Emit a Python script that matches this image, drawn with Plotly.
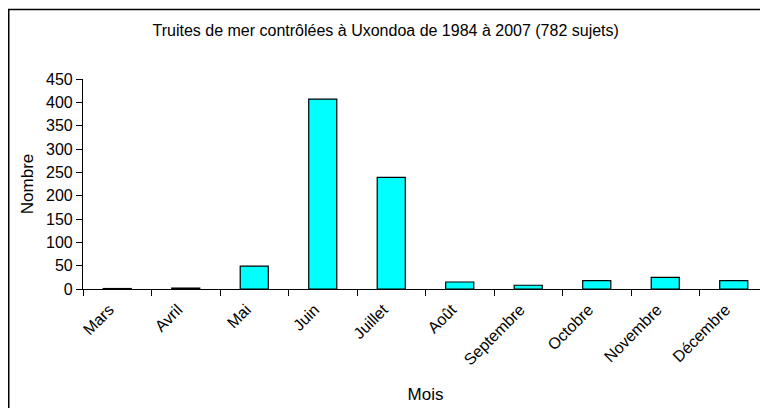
import plotly.graph_objects as go

mois = ['Mars', 'Avril', 'Mai', 'Juin', 'Juillet', 'Août',
        'Septembre', 'Octobre', 'Novembre', 'Décembre']
nombre = [1, 2, 49, 407, 239, 15, 8, 18, 25, 18]
y_ticks = [0, 50, 100, 150, 200, 250, 300, 350, 400, 450]

font = dict(family='Liberation Sans, Arial, sans-serif', size=16, color='black')

bar = go.Bar(x=mois, y=nombre,
             marker=dict(color='#00FFFF', line=dict(color='black', width=1.2)))

# la page html ajoute 8 px de marge autour du graphique
fig = go.Figure([bar])
fig.update_layout(
    width=760, height=400,
    margin=dict(l=75, r=0, t=71, b=119, autoexpand=False),
    paper_bgcolor='white', plot_bgcolor='white',
    font=font,
    bargap=0.59,
    showlegend=False,
    title=dict(text='Truites de mer contrôlées à Uxondoa de 1984 à 2007 (782 sujets)',
               x=0.497, xanchor='center', y=1 - 22 / 400, yanchor='middle',
               font=dict(size=16)),
    xaxis=dict(title=dict(text='Mois', standoff=20, font=dict(size=17)),
               tickangle=-45, tickson='boundaries', ticks='outside', ticklen=6,
               ticklabelshift=-8, ticklabelstandoff=4,
               tickcolor='black', showline=True, linecolor='black', linewidth=1.2,
               showgrid=False, range=[-0.5, 9.5], automargin=False),
    yaxis=dict(title=dict(text='Nombre', standoff=8, font=dict(size=17)),
               range=[0, 450], tickvals=y_ticks, ticks='outside', ticklen=6,
               tickcolor='black', showline=True, linecolor='black', linewidth=1.2,
               showgrid=False, zeroline=False, automargin=False),
)

# cadre du graphique (coupé à droite et en bas comme l'original)
fig.add_shape(type='rect', xref='paper', yref='paper',
              x0=(0.75 - 75) / 685, x1=1.05, y0=-1.0, y1=(210 + 69.5) / 210,
              line=dict(color='black', width=1.5), fillcolor='rgba(0,0,0,0)',
              layer='below')

fig.write_html('out.html')
